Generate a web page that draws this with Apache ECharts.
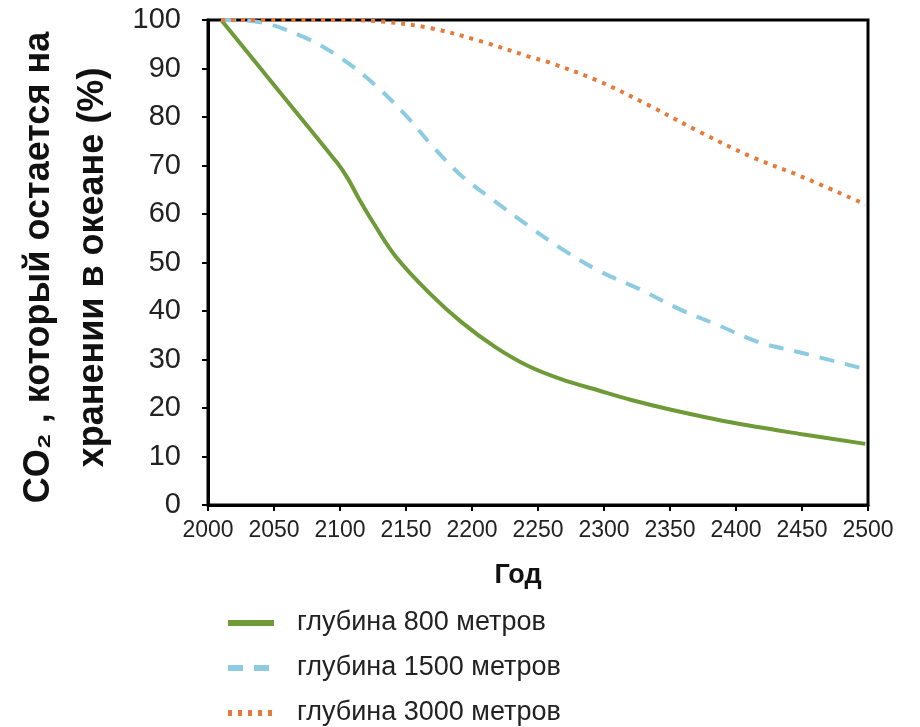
<!DOCTYPE html>
<html>
<head>
<meta charset="utf-8">
<script src="https://cdn.jsdelivr.net/npm/echarts@6/dist/echarts.min.js"></script>
<style>
html,body{margin:0;padding:0;background:#fff;}
#c{width:920px;height:727px;}
</style>
</head>
<body>
<div id="c"></div>
<script>
// Data
const years800 = [2010, 2050, 2098, 2106, 2114, 2125, 2142, 2167, 2192, 2218, 2243, 2268, 2296, 2320, 2350, 2397, 2450, 2498];
const vals800  = [100, 86.6, 70.5, 67.3, 63.3, 58.3, 51.3, 43.9, 37.7, 32.5, 28.6, 25.9, 23.6, 21.7, 19.7, 17.0, 14.6, 12.6];

const years1500 = [2010, 2038, 2074, 2101, 2127, 2150, 2170, 2192, 2215, 2243, 2268, 2296, 2327, 2357, 2388, 2418, 2448, 2498];
const vals1500  = [100, 99.6, 96.3, 92.1, 86.5, 80.3, 74.0, 67.9, 63.1, 57.5, 52.8, 48.3, 44.5, 40.4, 36.9, 33.5, 31.5, 28.0];

const years3000 = [2010, 2060, 2100, 2131, 2169, 2207, 2245, 2258, 2296, 2334, 2372, 2410, 2448, 2498];
const vals3000  = [100, 100, 100, 99.7, 98.3, 95.6, 92.3, 91.3, 87.4, 82.4, 77.0, 72.0, 67.9, 62.0];

const seriesNames = ['глубина 800 метров', 'глубина 1500 метров', 'глубина 3000 метров'];
const xTicks = {min: 2000, max: 2500, interval: 50};
const yTicks = {min: 0, max: 100, interval: 10};
const xTitle = 'Год';
const yTitle = 'CO₂ , который остается на\nхранении в океане (%)';

function pairs(xs, ys){ return xs.map((x,i)=>[x, ys[i]]); }

const chart = echarts.init(document.getElementById('c'));
chart.setOption({
  animation: false,
  backgroundColor: '#fff',
  grid: {left: 208, right: 52, top: 20, bottom: 222, outerBoundsMode: 'none', containLabel: false,
         show: true, borderColor: '#000', borderWidth: 3, backgroundColor: 'transparent'},
  xAxis: {
    type: 'value', min: xTicks.min, max: xTicks.max, interval: xTicks.interval,
    name: xTitle, nameLocation: 'middle', nameGap: 57,
    nameTextStyle: {fontFamily: 'Liberation Sans', fontWeight: 'bold', fontSize: 27, color: '#111', padding: [0, 40, 0, 0]},
    axisLine: {show: true, lineStyle: {color: '#000', width: 3}},
    axisTick: {show: true, inside: false, length: 6, lineStyle: {color: '#000', width: 2}},
    splitLine: {show: false},
    axisLabel: {fontFamily: 'Liberation Sans', fontSize: 23, color: '#222', margin: 14,
      showMinLabel: true, showMaxLabel: true, hideOverlap: false, formatter: v => String(v)},
  },
  yAxis: {
    type: 'value', min: yTicks.min, max: yTicks.max, interval: yTicks.interval,
    name: yTitle, nameLocation: 'middle', nameGap: 88, nameRotate: 90,
    nameTextStyle: {fontFamily: 'Liberation Sans', fontWeight: 'bold', fontSize: 36, lineHeight: 54, color: '#111', align: 'center', padding: [0, 10, 0, 0]},
    axisLine: {show: true, lineStyle: {color: '#000', width: 3}},
    axisTick: {show: true, inside: false, length: 6, lineStyle: {color: '#000', width: 2}},
    splitLine: {show: false},
    axisLabel: {fontFamily: 'Liberation Sans', fontSize: 29, color: '#222', margin: 27},
  },
  legend: {
    orient: 'vertical', left: 225, top: 609, padding: 0, itemWidth: 46, itemHeight: 14, itemGap: 17,
    itemStyle: {opacity: 0},
    lineStyle: {width: 6},
    textStyle: {fontFamily: 'Liberation Sans', fontSize: 27, lineHeight: 28, color: '#222', padding: [0,0,0,18]},
    data: seriesNames
  },
  series: [
    {name: seriesNames[0], type: 'line', data: pairs(years800, vals800), smooth: 0.35, showSymbol: false, symbol: 'none',
     lineStyle: {color: '#6f9a38', width: 4}, itemStyle: {color: '#6f9a38'}},
    {name: seriesNames[1], type: 'line', data: pairs(years1500, vals1500), smooth: 0.35, showSymbol: false, symbol: 'none',
     lineStyle: {color: '#8ccbe0', width: 4, type: [15, 11]}, itemStyle: {color: '#8ccbe0'}},
    {name: seriesNames[2], type: 'line', data: pairs(years3000, vals3000), smooth: 0.35, showSymbol: false, symbol: 'none',
     lineStyle: {color: '#e57a3a', width: 4, type: [4, 6]}, itemStyle: {color: '#e57a3a'}}
  ]
});
</script>
</body>
</html>
